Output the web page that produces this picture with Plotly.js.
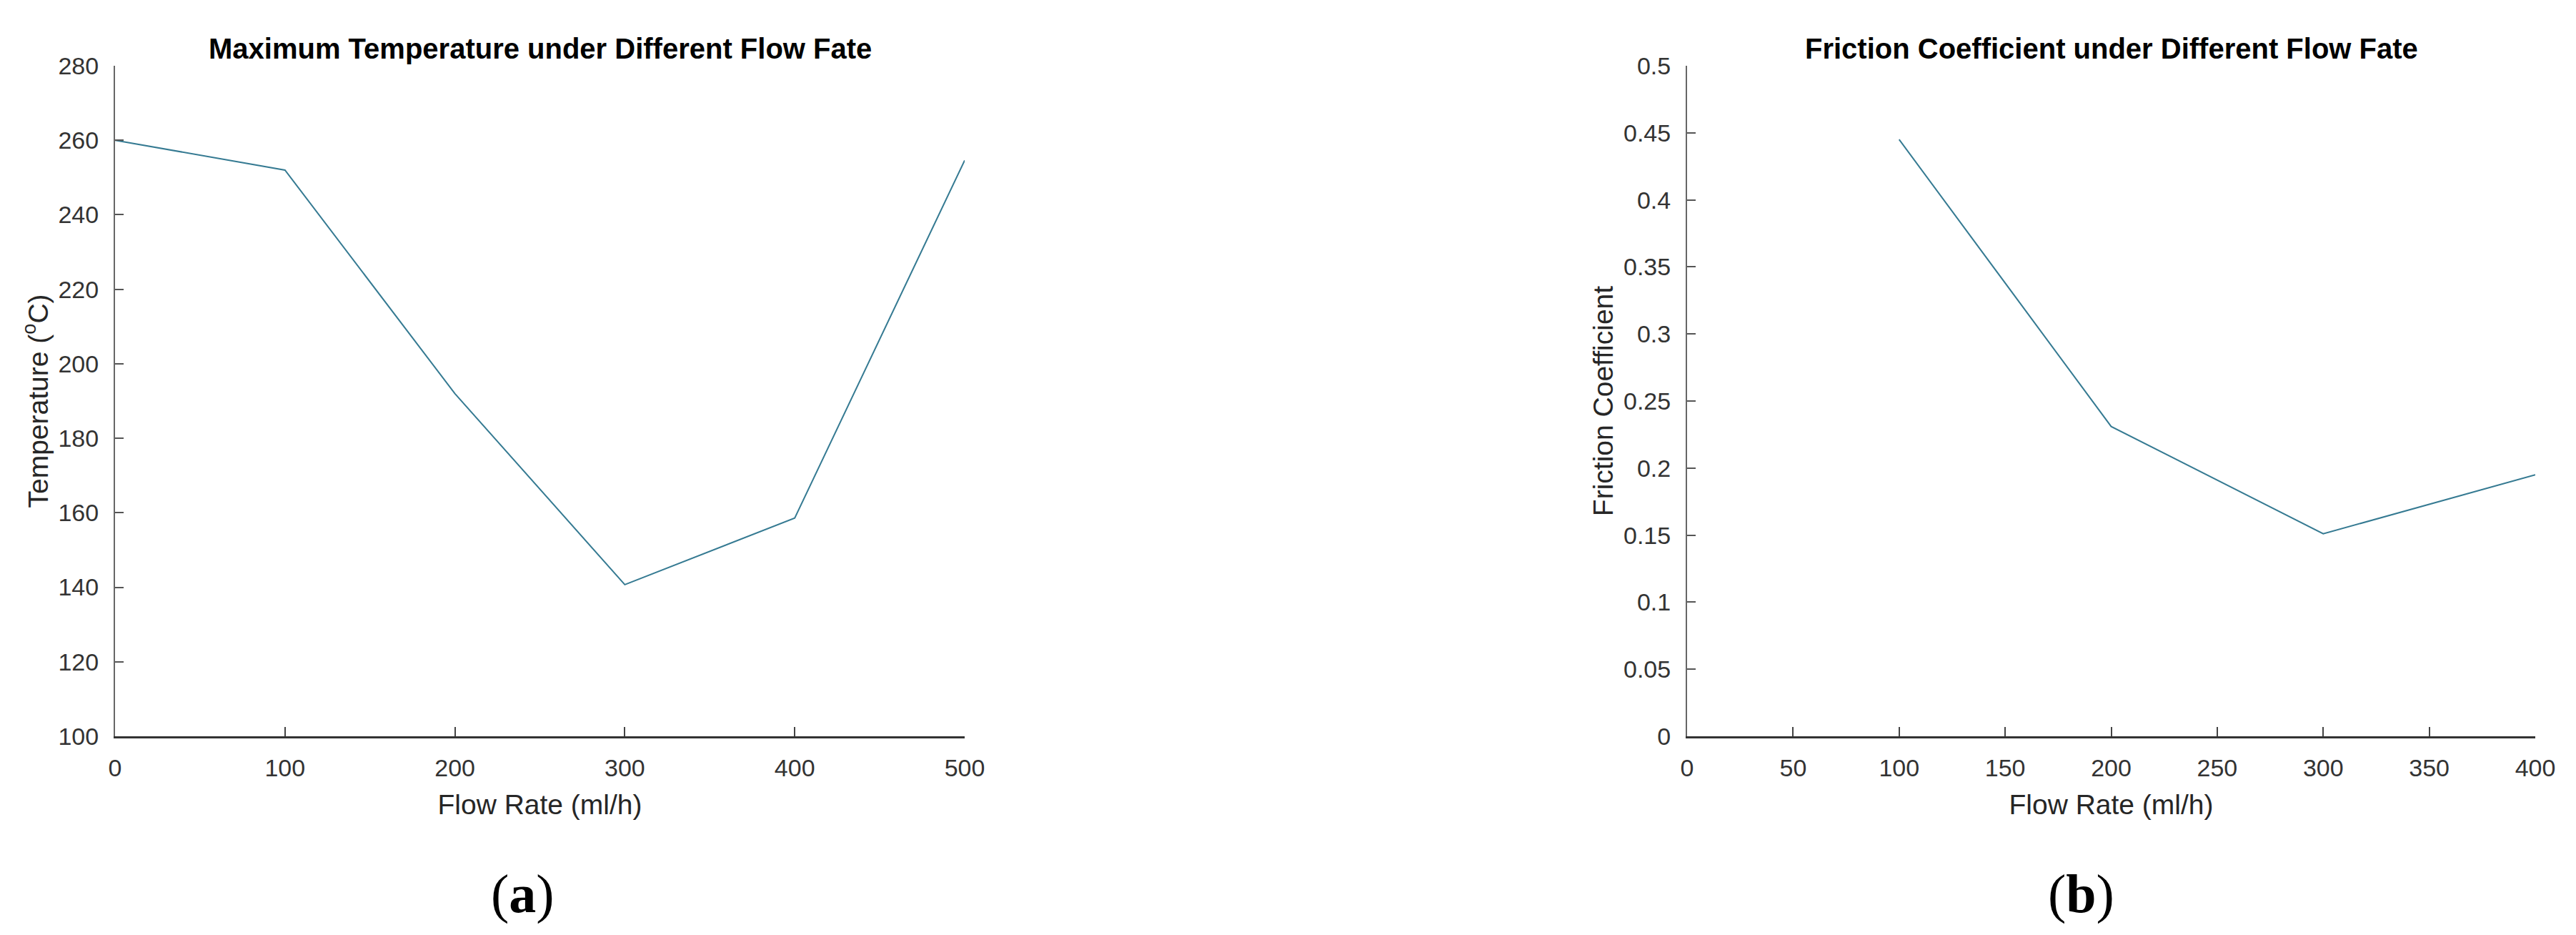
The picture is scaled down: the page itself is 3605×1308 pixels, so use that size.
<!DOCTYPE html>
<html>
<head>
<meta charset="utf-8">
<script src="https://cdn.plot.ly/plotly-3.0.1.min.js"></script>
<style>
  html, body { margin: 0; padding: 0; background: #ffffff; }
  #chart { width: 3605px; height: 1308px; }
</style>
</head>
<body>
<div id="chart"></div>
<script>
// ---- data ----
const flowRateA = [0, 100, 200, 300, 400, 500];          // ml/h
const maxTemperature = [260, 252, 192, 140.7, 158.6, 254.6]; // °C
const flowRateB = [100, 200, 300, 400];                  // ml/h
const frictionCoeff = [0.445, 0.231, 0.151, 0.195];

const titleA = "Maximum Temperature under Different Flow Fate";
const titleB = "Friction Coefficient under Different Flow Fate";
const xTitle = "Flow Rate (ml/h)";
const yTitleA = "Temperature (<sup>o</sup>C)";
const yTitleB = "Friction Coefficient";
const panelA = "(<b>a</b>)";
const panelB = "(<b>b</b>)";

// ---- styling ----
const W = 3605, H = 1308;
const lineColor = "#357a92";
const sans = "Liberation Sans, Arial, sans-serif";
const tickFont = { family: sans, size: 34, color: "#333333" };
const axTitleFont = { family: sans, size: 39, color: "#262626" };

const xDomA = [161 / W, 1350 / W];
const xDomB = [2361 / W, 3548 / W];
const yDom = [1 - 1030 / H, 1 - 92 / H];

function xAxis(domain, range, dtick, anchor) {
  return {
    domain: domain, range: range, dtick: dtick, tick0: 0, anchor: anchor,
    showgrid: false, zeroline: false,
    showline: true, linecolor: "#333333", linewidth: 3,
    ticks: "inside", ticklen: 13, tickwidth: 2, tickcolor: "#444444",
    tickfont: tickFont, ticklabelstandoff: 12,
    title: { text: xTitle, font: axTitleFont, standoff: 20 },
    automargin: false, fixedrange: true
  };
}
function yAxis(domain, range, dtick, anchor, title, standoff) {
  return {
    domain: domain, range: range, dtick: dtick, tick0: 0, anchor: anchor,
    showgrid: false, zeroline: false,
    showline: true, linecolor: "#666666", linewidth: 2,
    ticks: "inside", ticklen: 12, tickwidth: 2, tickcolor: "#555555",
    tickfont: tickFont, ticklabelstandoff: 14,
    title: { text: title, font: axTitleFont, standoff: standoff },
    automargin: false, fixedrange: true
  };
}

const traces = [
  { x: flowRateA, y: maxTemperature, type: "scatter", mode: "lines",
    xaxis: "x", yaxis: "y", line: { color: lineColor, width: 2 }, showlegend: false },
  { x: flowRateB, y: frictionCoeff, type: "scatter", mode: "lines",
    xaxis: "x2", yaxis: "y2", line: { color: lineColor, width: 2 }, showlegend: false }
];

const layout = {
  width: W, height: H,
  margin: { l: 0, r: 0, t: 0, b: 0 },
  paper_bgcolor: "#ffffff", plot_bgcolor: "#ffffff",
  showlegend: false,
  xaxis: xAxis(xDomA, [0, 500], 100, "y"),
  yaxis: yAxis(yDom, [100, 280], 20, "x", yTitleA, 2),
  xaxis2: xAxis(xDomB, [0, 400], 50, "y2"),
  yaxis2: yAxis(yDom, [0, 0.5], 0.05, "x2", yTitleB, 2),
  annotations: [
    { text: "<b>" + titleA + "</b>", xref: "paper", yref: "paper",
      x: (xDomA[0] + xDomA[1]) / 2, y: 1 - 68 / H, xanchor: "center", yanchor: "middle",
      showarrow: false, font: { family: sans, size: 40, color: "#000000" } },
    { text: "<b>" + titleB + "</b>", xref: "paper", yref: "paper",
      x: (xDomB[0] + xDomB[1]) / 2, y: 1 - 68 / H, xanchor: "center", yanchor: "middle",
      showarrow: false, font: { family: sans, size: 40, color: "#000000" } },
    { text: panelA, xref: "paper", yref: "paper",
      x: 731 / W, y: 1 - 1250 / H, xanchor: "center", yanchor: "middle",
      showarrow: false, font: { family: "Liberation Serif, Times New Roman, serif", size: 76, color: "#000000" } },
    { text: panelB, xref: "paper", yref: "paper",
      x: 2912 / W, y: 1 - 1250 / H, xanchor: "center", yanchor: "middle",
      showarrow: false, font: { family: "Liberation Serif, Times New Roman, serif", size: 76, color: "#000000" } }
  ]
};

Plotly.newPlot("chart", traces, layout, { staticPlot: true, displayModeBar: false });
</script>
</body>
</html>
